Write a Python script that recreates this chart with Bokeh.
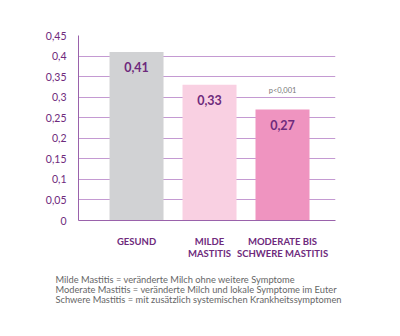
from bokeh.plotting import figure
from bokeh.models import FixedTicker, Title, ColumnDataSource, Range1d
from bokeh.core.properties import value
from bokeh.embed import file_html
from bokeh.resources import INLINE

categories = ["GESUND", "MILDE\nMASTITIS", "MODERATE BIS\nSCHWERE MASTITIS"]
values = [0.41, 0.33, 0.27]
value_labels = ["0,41", "0,33", "0,27"]
colors = ["#d1d2d4", "#f9d0e2", "#ef94c0"]
y_ticks = [0, 0.05, 0.1, 0.15, 0.2, 0.25, 0.3, 0.35, 0.4, 0.45]
y_tick_labels = ["0", "0,05", "0,1", "0,15", "0,2", "0,25", "0,3", "0,35", "0,4", "0,45"]
p_note = "p<0,001"
footnotes = [
    "Milde Mastitis = veränderte Milch ohne weitere Symptome",
    "Moderate Mastitis = veränderte Milch und lokale Symptome im Euter",
    "Schwere Mastitis = mit zusätzlich systemischen Krankheitssymptomen",
]

PURPLE = "#6e2a7c"
GRID = "#c49ad2"
FONT = "Lato"

xs = list(range(len(categories)))
src = ColumnDataSource(dict(x=xs, top=values, lab=value_labels, color=colors))

p = figure(width=400, height=336, output_backend="svg", toolbar_location=None,
           x_range=Range1d(-0.795, 2.726), y_range=Range1d(0, 0.45),
           min_border_left=78, min_border_right=65, min_border_top=35, min_border_bottom=116)
p.outline_line_color = None
p.background_fill_color = "white"

p.vbar(x="x", top="top", width=0.74, fill_color="color", line_color=None, source=src)
p.text(x="x", y="top", text="lab", source=src, y_offset=15, text_align="center",
       text_baseline="middle", text_font=value(FONT), text_font_style="bold",
       text_font_size="12.5px", text_color=PURPLE)
p.text(x=[xs[2]], y=[values[2]], text=[p_note], y_offset=-19, text_align="center",
       text_baseline="middle", text_font=value(FONT), text_font_size="7.5px",
       text_color="#777777")

p.xgrid.grid_line_color = None
p.ygrid.grid_line_color = GRID
p.ygrid.grid_line_width = 1
p.yaxis.ticker = FixedTicker(ticks=y_ticks)
p.ygrid.ticker = FixedTicker(ticks=y_ticks)
p.yaxis.major_label_overrides = {t: l for t, l in zip(y_ticks, y_tick_labels)}
p.yaxis.axis_line_color = "#9a62ab"
p.yaxis.major_tick_line_color = None
p.yaxis.minor_tick_line_color = None
p.yaxis.major_label_standoff = 6
p.yaxis.major_label_text_font = FONT
p.yaxis.major_label_text_font_size = "10.5px"
p.yaxis.major_label_text_color = PURPLE

p.xaxis.ticker = FixedTicker(ticks=xs)
p.xaxis.major_label_overrides = {x: c for x, c in zip(xs, categories)}
p.xaxis.axis_line_color = "#9a62ab"
p.xaxis.major_tick_line_color = None
p.xaxis.minor_tick_line_color = None
p.xaxis.major_label_standoff = 9
p.xaxis.major_label_text_font = FONT
p.xaxis.major_label_text_font_style = "bold"
p.xaxis.major_label_text_font_size = "9.5px"
p.xaxis.major_label_text_color = PURPLE
p.xaxis.major_label_text_line_height = 1.1

p.add_layout(Title(text="\n".join(footnotes), align="left", offset=-23, standoff=20,
                   text_font=FONT, text_font_size="9.3px", text_font_style="normal",
                   text_color="#666666", text_line_height=0.95), "below")

open("out.html", "w").write(file_html(p, INLINE))
